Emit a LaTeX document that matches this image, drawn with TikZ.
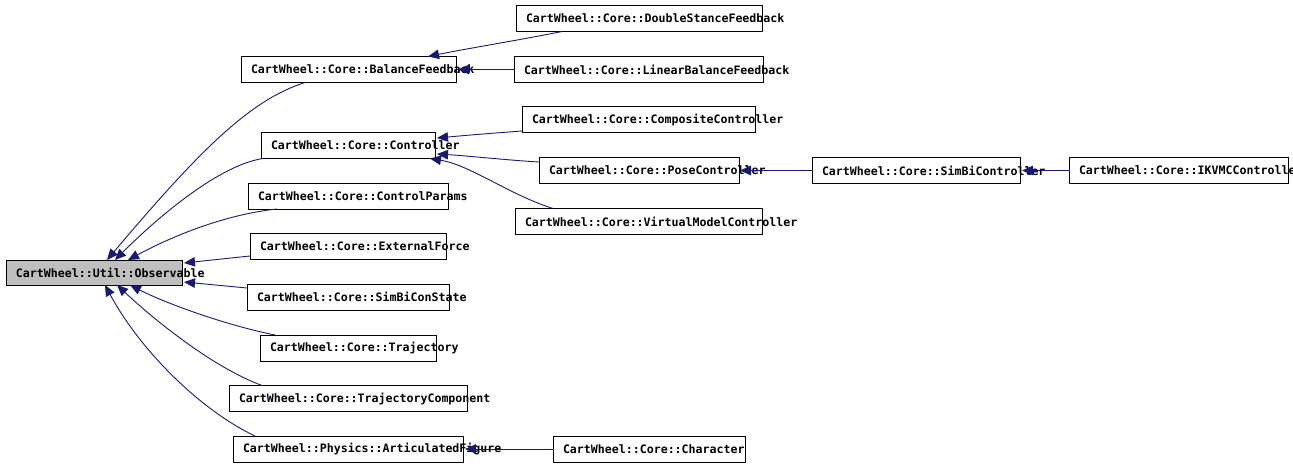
\documentclass[tikz,border=0pt]{standalone}
\usepackage{fontspec}
\setmonofont{DejaVu Sans Mono}
\usetikzlibrary{arrows.meta}
\definecolor{edgeblue}{HTML}{191970}
\definecolor{boxgray}{HTML}{BFBFBF}
\tikzset{
  box/.style={draw=black, line width=1pt, rectangle, inner sep=0pt, outer sep=0pt, minimum height=26pt},
  lbl/.style={anchor=west, inner sep=0pt, outer sep=0pt, font=\fontsize{11.6}{12}\selectfont\ttfamily\bfseries},
  edge/.style={draw=edgeblue, line width=0.9pt, -{Triangle[length=11pt,width=9.5pt]}, fill=none},
}
\begin{document}
\begin{tikzpicture}[x=1pt,y=-1pt]
\useasboundingbox (0,0) rectangle (1293,468);
% boxes
\node[box, fill=boxgray, minimum width=176pt, minimum height=25pt] (obs) at (94,272.5) {};
\node[box, minimum width=215pt] (bal) at (348.5,69.5) {};
\node[box, minimum width=246pt] (dsf) at (639,18.5) {};
\node[box, minimum width=249pt] (lbf) at (638.5,69.5) {};
\node[box, minimum width=174pt] (ctl) at (348,145.5) {};
\node[box, minimum width=233pt] (cmp) at (638.5,120) {};
\node[box, minimum width=200pt] (pose) at (639,170.5) {};
\node[box, minimum width=247pt] (vmc) at (638.5,221.5) {};
\node[box, minimum width=208pt] (sbc) at (916,170.5) {};
\node[box, minimum width=219pt] (ikv) at (1178.5,170.5) {};
\node[box, minimum width=200pt] (cp) at (348,196) {};
\node[box, minimum width=196pt] (ef) at (348,246.5) {};
\node[box, minimum width=202pt] (sbs) at (348,297) {};
\node[box, minimum width=176pt] (trj) at (348,348) {};
\node[box, minimum width=238pt] (tc) at (348,398.5) {};
\node[box, minimum width=230pt] (af) at (348,449) {};
\node[box, minimum width=192pt] (chr) at (649,449) {};
% labels
\node[lbl] (obs-t) at ([xshift=10pt]obs.west) {CartWheel::Util::Observable};
\node[lbl] (bal-t) at ([xshift=10pt]bal.west) {CartWheel::Core::BalanceFeedback};
\node[lbl] (dsf-t) at ([xshift=10pt]dsf.west) {CartWheel::Core::DoubleStanceFeedback};
\node[lbl] (lbf-t) at ([xshift=10pt]lbf.west) {CartWheel::Core::LinearBalanceFeedback};
\node[lbl] (ctl-t) at ([xshift=10pt]ctl.west) {CartWheel::Core::Controller};
\node[lbl] (cmp-t) at ([xshift=10pt]cmp.west) {CartWheel::Core::CompositeController};
\node[lbl] (pose-t) at ([xshift=10pt]pose.west) {CartWheel::Core::PoseController};
\node[lbl] (vmc-t) at ([xshift=10pt]vmc.west) {CartWheel::Core::VirtualModelController};
\node[lbl] (sbc-t) at ([xshift=10pt]sbc.west) {CartWheel::Core::SimBiController};
\node[lbl] (ikv-t) at ([xshift=10pt]ikv.west) {CartWheel::Core::IKVMCController};
\node[lbl] (cp-t) at ([xshift=10pt]cp.west) {CartWheel::Core::ControlParams};
\node[lbl] (ef-t) at ([xshift=10pt]ef.west) {CartWheel::Core::ExternalForce};
\node[lbl] (sbs-t) at ([xshift=10pt]sbs.west) {CartWheel::Core::SimBiConState};
\node[lbl] (trj-t) at ([xshift=10pt]trj.west) {CartWheel::Core::Trajectory};
\node[lbl] (tc-t) at ([xshift=10pt]tc.west) {CartWheel::Core::TrajectoryComponent};
\node[lbl] (af-t) at ([xshift=10pt]af.west) {CartWheel::Physics::ArticulatedFigure};
\node[lbl] (chr-t) at ([xshift=10pt]chr.west) {CartWheel::Core::Character};
% edges to Observable
\draw[edge] ([xshift=64pt]bal.south west) .. controls (250,100) and (200,150) .. ([xshift=101pt]obs.north west);
\draw[edge] ([xshift=2pt]ctl.south west) .. controls (220,165) and (160,215) .. ([xshift=109pt]obs.north west);
\draw[edge] ([xshift=29pt]cp.south west) .. controls (220,215) and (165,240) .. ([xshift=122pt]obs.north west);
\draw[edge] ([yshift=-9.5pt]ef.west) -- ([xshift=2pt,yshift=9.5pt]obs.east);
\draw[edge] ([yshift=9pt]sbs.west) -- ([xshift=2pt,yshift=-9.5pt]obs.east);
\draw[edge] ([xshift=15pt]trj.north west) .. controls (225,325) and (165,303) .. ([xshift=124pt]obs.south west);
\draw[edge] ([xshift=33pt]tc.north west) .. controls (215,368) and (160,325) .. ([xshift=111pt]obs.south west);
\draw[edge] ([xshift=22pt]af.north west) .. controls (200,410) and (140,350) .. ([xshift=99pt]obs.south west);
% other edges
\draw[edge] ([xshift=46pt]dsf.south west) .. controls (520,40) and (470,48) .. ([xshift=-28pt]bal.north east);
\draw[edge] (lbf.west) -- ([xshift=2pt]bal.east);
\draw[edge] ([yshift=-11pt]cmp.west) .. controls (495,133) and (470,135) .. ([xshift=2pt,yshift=7.5pt]ctl.east);
\draw[edge] ([yshift=8.5pt]pose.west) .. controls (505,160) and (470,156) .. ([xshift=2pt,yshift=-8.5pt]ctl.east);
\draw[edge] ([xshift=38pt]vmc.north west) .. controls (510,195) and (470,165) .. ([xshift=-5pt]ctl.south east);
\draw[edge] (sbc.west) -- ([xshift=1pt]pose.east);
\draw[edge] (ikv.west) -- ([xshift=2pt]sbc.east);
\draw[edge] (chr.west) -- ([xshift=2pt]af.east);
\end{tikzpicture}
\end{document}
